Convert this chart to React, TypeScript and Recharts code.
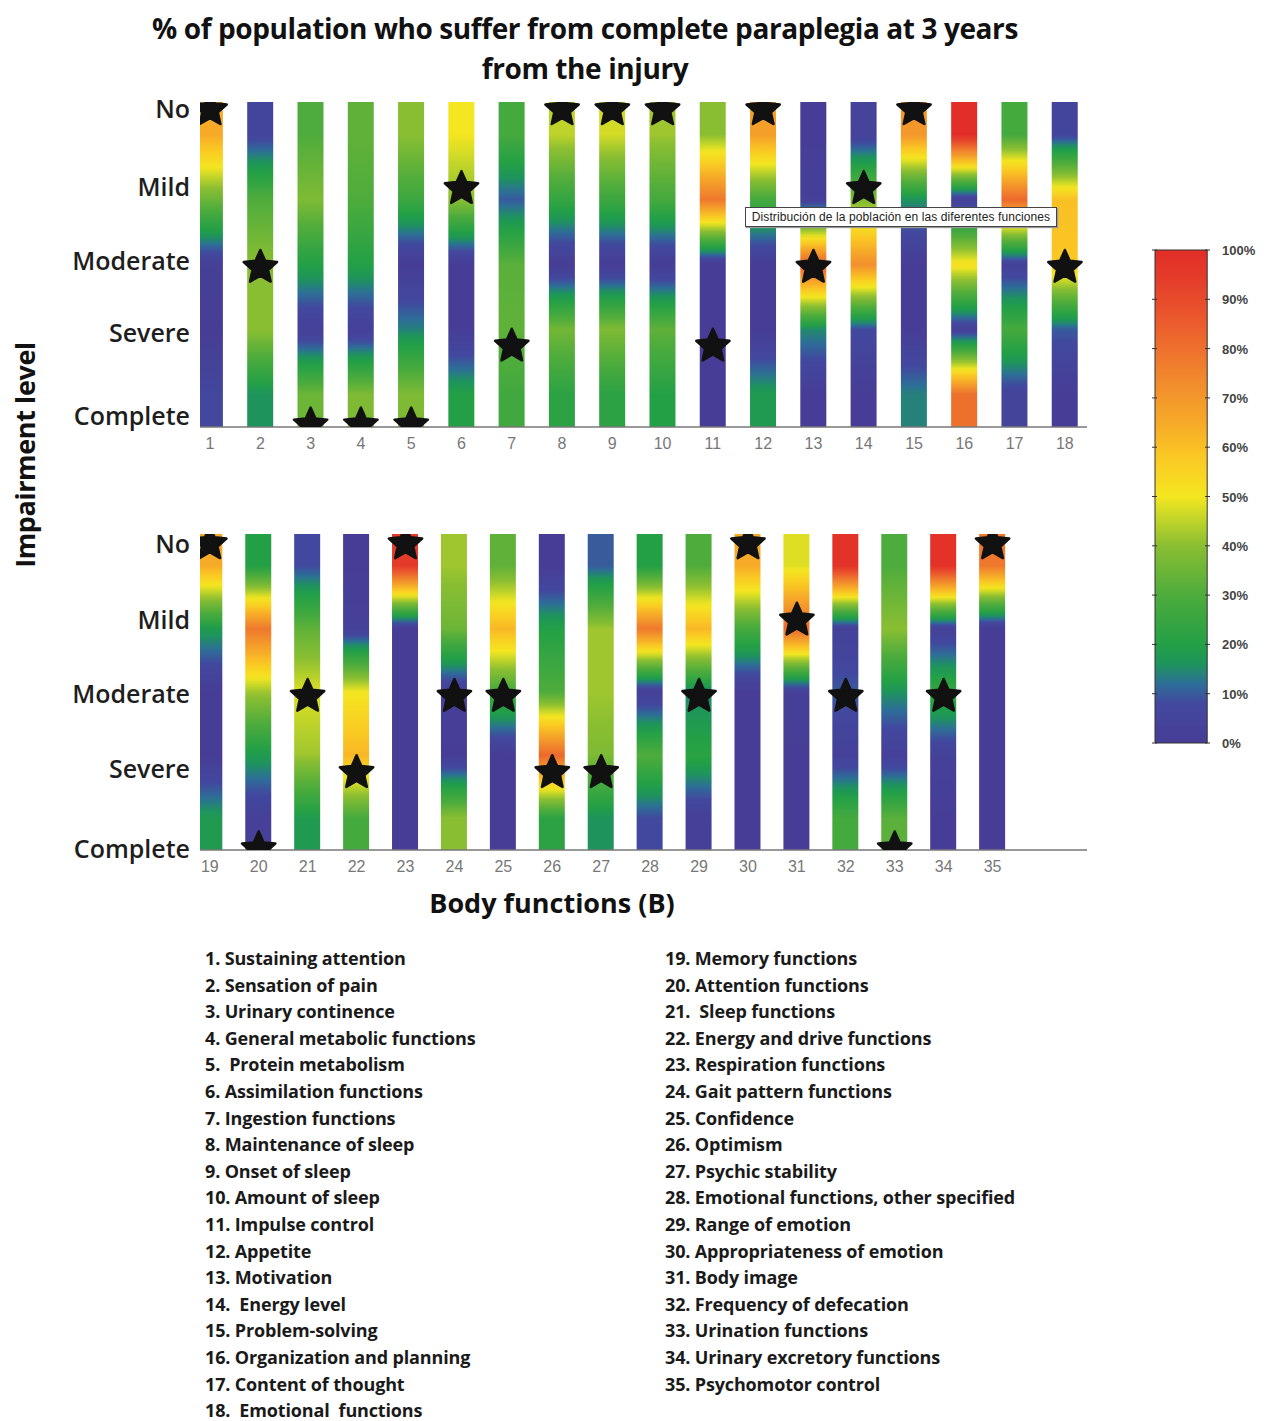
import React from 'react';
import { ComposedChart, BarChart, Bar, Scatter, XAxis, YAxis, Cell } from 'recharts';

// ---------- DATA ----------
const LEVEL_LABELS = ['Complete', 'Severe', 'Moderate', 'Mild', 'No']; // y index 0..4
const FUNCTION_IDS = Array.from({ length: 35 }, (_, i) => i + 1);
const FUNCTION_NAMES = [
  'Sustaining attention', 'Sensation of pain', 'Urinary continence', 'General metabolic functions',
  ' Protein metabolism', 'Assimilation functions', 'Ingestion functions', 'Maintenance of sleep',
  'Onset of sleep', 'Amount of sleep', 'Impulse control', 'Appetite', 'Motivation', ' Energy level',
  'Problem-solving', 'Organization and planning', 'Content of thought', ' Emotional  functions',
  'Memory functions', 'Attention functions', ' Sleep functions', 'Energy and drive functions',
  'Respiration functions', 'Gait pattern functions', 'Confidence', 'Optimism', 'Psychic stability',
  'Emotional functions, other specified', 'Range of emotion', 'Appropriateness of emotion',
  'Body image', 'Frequency of defecation', 'Urination functions', 'Urinary excretory functions',
  'Psychomotor control',
];
// % of population at each impairment level (per function)
const PCT_NO = [65, 6, 30, 33, 40, 50, 28, 45, 47, 42, 40, 68, 0, 4, 70, 100, 28, 6, 65, 20, 8, 0, 95, 42, 33, 0, 10, 20, 30, 65, 48, 98, 30, 98, 78];
const PCT_MILD = [35, 30, 38, 30, 26, 40, 10, 24, 26, 28, 78, 28, 2, 38, 16, 3, 82, 60, 18, 78, 33, 3, 0, 35, 62, 20, 42, 78, 62, 28, 82, 3, 40, 3, 0];
const PCT_MODERATE = [2, 40, 20, 20, 0, 0, 32, 0, 0, 0, 0, 0, 85, 72, 0, 52, 3, 58, 0, 42, 48, 50, 0, 2, 28, 30, 42, 2, 14, 0, 2, 10, 16, 25, 0];
const PCT_SEVERE = [0, 40, 2, 2, 14, 0, 33, 36, 38, 33, 0, 0, 15, 8, 0, 3, 28, 10, 0, 18, 42, 62, 0, 0, 0, 82, 38, 30, 22, 0, 0, 3, 2, 3, 0];
const PCT_COMPLETE = [7, 16, 35, 38, 38, 20, 27, 22, 22, 20, 0, 18, 0, 0, 14, 80, 5, 0, 18, 2, 18, 28, 0, 40, 0, 22, 16, 8, 2, 0, 0, 28, 32, 0, 0];
// star marker level (index into LEVEL_LABELS), null = no star
const STAR_LEVEL = [4, 2, 0, 0, 0, 3, 1, 4, 4, 4, 1, 4, 2, 3, 4, null, null, 2, 4, 0, 2, 1, 4, 2, 2, 1, 1, null, 2, 4, 3, 2, 0, 2, 4];
const COLORBAR_TICKS = [0, 10, 20, 30, 40, 50, 60, 70, 80, 90, 100];
// colormap (value %, rgb)
const CMAP: [number, number[]][] = [
  [0, [71, 61, 150]], [8, [66, 72, 158]], [12, [45, 110, 152]], [16, [30, 148, 92]],
  [20, [35, 160, 70]], [30, [78, 172, 60]], [40, [138, 190, 50]], [46, [200, 215, 40]],
  [50, [244, 230, 32]], [58, [250, 200, 35]], [65, [246, 170, 40]], [75, [240, 132, 45]],
  [85, [235, 92, 45]], [95, [228, 58, 42]], [100, [226, 46, 40]],
];

// ---------- helpers ----------
function cmap(v: number) {
  const x = Math.max(0, Math.min(100, v));
  for (let i = 0; i < CMAP.length - 1; i++) {
    const [a, ca] = CMAP[i];
    const [b, cb] = CMAP[i + 1];
    if (x >= a && x <= b) {
      const t = b === a ? 0 : (x - a) / (b - a);
      const c = ca.map((q, k) => Math.round(q + (cb[k] - q) * t));
      return `rgb(${c[0]},${c[1]},${c[2]})`;
    }
  }
  const c = CMAP[CMAP.length - 1][1];
  return `rgb(${c[0]},${c[1]},${c[2]})`;
}
function valueAt(vals: number[], f: number) {
  const p = f * vals.length - 0.5;
  if (p <= 0) return vals[0];
  if (p >= vals.length - 1) return vals[vals.length - 1];
  const i = Math.floor(p);
  const t = p - i;
  return vals[i] * (1 - t) + vals[i + 1] * t;
}
function profile(idx: number) {
  return [PCT_NO[idx], PCT_MILD[idx], PCT_MODERATE[idx], PCT_SEVERE[idx], PCT_COMPLETE[idx]];
}

const StarShape = (props: any) => {
  const { cx, cy, payload } = props;
  if (payload == null || payload.star == null || !isFinite(cx) || !isFinite(cy)) return <g />;
  const R = 17.5, r = 8.2;
  const pts: string[] = [];
  for (let k = 0; k < 10; k++) {
    const ang = -Math.PI / 2 + (k * Math.PI) / 5;
    const rad = k % 2 === 0 ? R : r;
    pts.push(`${cx + rad * Math.cos(ang)},${cy + rad * Math.sin(ang)}`);
  }
  return <polygon points={pts.join(' ')} fill="#111" stroke="#111" strokeWidth={2.5} strokeLinejoin="round" />;
};

const makeLevelTick = (offsets: number[]) => (props: any) => {
  const { x, y, payload } = props;
  return (
    <text x={x} y={y + offsets[payload.value]} dy={8} textAnchor="end" fontSize={25} fontWeight={600} fill="#1e1e1e"
      fontFamily="'Open Sans', sans-serif">
      {LEVEL_LABELS[payload.value]}
    </text>
  );
};

function Panel({ ids, xDomain, yDomain, top, plotH, labelOffsets }: any) {
  const rows = ids.map((id: number) => ({ fn: id, span: [yDomain[0], yDomain[1]], star: STAR_LEVEL[id - 1] }));
  const mTop = 10;
  const Tick = makeLevelTick(labelOffsets);
  return (
    <div style={{ position: 'absolute', left: 0, top: top - mTop }}>
      <ComposedChart width={1110} height={mTop + plotH + 35} data={rows}
        margin={{ top: mTop, right: 23, bottom: 5, left: 0 }}>
        <defs>
          {ids.map((id: number) => {
            const vals = profile(id - 1);
            return (
              <linearGradient key={id} id={`grad${id}`} x1="0" y1="0" x2="0" y2="1">
                {Array.from({ length: 101 }, (_, k) => (
                  <stop key={k} offset={`${k}%`} stopColor={cmap(valueAt(vals, k / 100))} />
                ))}
              </linearGradient>
            );
          })}
        </defs>
        <XAxis type="number" dataKey="fn" domain={xDomain} allowDataOverflow ticks={ids} interval={0}
          tickSize={0} tickMargin={11} height={30}
          axisLine={{ stroke: '#777', strokeWidth: 1.3 }} tickLine={false}
          tick={{ fontSize: 16, fill: '#777', fontFamily: "'Liberation Sans', sans-serif" }} />
        <YAxis type="number" domain={yDomain} allowDataOverflow ticks={[0, 1, 2, 3, 4]} interval={0}
          width={200} tickSize={0} tickMargin={10} axisLine={false} tickLine={false} tick={<Tick />} />
        <Bar dataKey="span" barSize={26} isAnimationActive={false}>
          {rows.map((r: any) => <Cell key={r.fn} fill={`url(#grad${r.fn})`} />)}
        </Bar>
        <Scatter dataKey="star" shape={<StarShape />} isAnimationActive={false} />
      </ComposedChart>
    </div>
  );
}

const ColorbarTick = (props: any) => {
  const { x, y, payload } = props;
  return (
    <g>
      <line x1={x - 5} x2={x} y1={y} y2={y} stroke="#333" />
      <line x1={x - 58} x2={x - 53} y1={y} y2={y} stroke="#333" />
      <text x={x + 12} y={y} dy={5} fontSize={13} fontWeight={700} fill="#444"
        fontFamily="'Liberation Sans', sans-serif">{`${payload.value}%`}</text>
    </g>
  );
};

function Colorbar() {
  const data = [{ k: 'c', v: [0, 100] }];
  return (
    <div style={{ position: 'absolute', left: 1140, top: 240 }}>
      <BarChart width={140} height={513} data={data} barCategoryGap={0}
        margin={{ top: 10, right: 0, bottom: 10, left: 12 }}>
        <defs>
          <linearGradient id="cbar" x1="0" y1="1" x2="0" y2="0">
            {Array.from({ length: 101 }, (_, k) => (
              <stop key={k} offset={`${k}%`} stopColor={cmap(k)} />
            ))}
          </linearGradient>
        </defs>
        <XAxis dataKey="k" hide />
        <YAxis orientation="right" type="number" domain={[0, 100]} ticks={COLORBAR_TICKS} interval={0}
          width={70} tickSize={0} tickMargin={0} axisLine={false} tickLine={false} tick={<ColorbarTick />} />
        <Bar dataKey="v" barSize={58} isAnimationActive={false}>
          <Cell fill="url(#cbar)" stroke="#333" strokeWidth={1} />
        </Bar>
      </BarChart>
    </div>
  );
}

export default function App() {
  const font = "'Open Sans', sans-serif";
  const left = FUNCTION_IDS.slice(0, 18);
  const right = FUNCTION_IDS.slice(18);
  const item = (id: number) => (
    <div key={id} style={{ whiteSpace: 'pre', fontWeight: 700 }}>
      {`${id}. ${FUNCTION_NAMES[id - 1]}`}
    </div>
  );
  const listStyle: React.CSSProperties = { position: 'absolute', top: 945, fontSize: 18, lineHeight: '26.6px', letterSpacing: -0.15, color: '#1a1a1a' };
  return (
    <div style={{ position: 'absolute', left: 0, top: 0, width: 1270, height: 1421, background: '#fff', overflow: 'hidden', fontFamily: font }}>
      <div style={{ position: 'absolute', left: 85, top: 8, width: 1000, textAlign: 'center', fontSize: 28, fontWeight: 700, lineHeight: '40px', letterSpacing: -0.4, color: '#111' }}>
        % of population who suffer from complete paraplegia at 3 years<br />from the injury
      </div>
      <div style={{ position: 'absolute', left: -125, top: 435, width: 300, height: 40, lineHeight: '40px', textAlign: 'center', transform: 'rotate(-90deg)', fontSize: 27, fontWeight: 700, letterSpacing: -0.4, color: '#111' }}>
        Impairment level
      </div>
      <Panel ids={left} xDomain={[0.8, 18.44]} yDomain={[-0.025, 4.1]} top={102} plotH={325} labelOffsets={[-8, -12, -5, -1, 0]} />
      <Panel ids={right} xDomain={[18.8, 36.93]} yDomain={[-0.013, 4.13]} top={534} plotH={316} labelOffsets={[1, -3, -1, 1, 1]} />
      <div style={{ position: 'absolute', left: 745, top: 207, width: 310, height: 18, border: '1px solid #444', background: '#fff', boxShadow: '1px 1px 1px #999', fontSize: 12, lineHeight: '18px', textAlign: 'center', fontFamily: "'Liberation Sans', sans-serif", letterSpacing: 0.1, color: '#222', whiteSpace: 'nowrap' }}>
        Distribución de la población en las diferentes funciones
      </div>
      <Colorbar />
      <div style={{ position: 'absolute', left: 352, top: 883, width: 400, lineHeight: '40px', textAlign: 'center', fontSize: 27, fontWeight: 700, color: '#111', letterSpacing: 0 }}>
        Body functions (B)
      </div>
      <div style={{ ...listStyle, left: 205 }}>
        {left.map(item)}
      </div>
      <div style={{ ...listStyle, left: 665 }}>
        {right.map(item)}
      </div>
    </div>
  );
}
